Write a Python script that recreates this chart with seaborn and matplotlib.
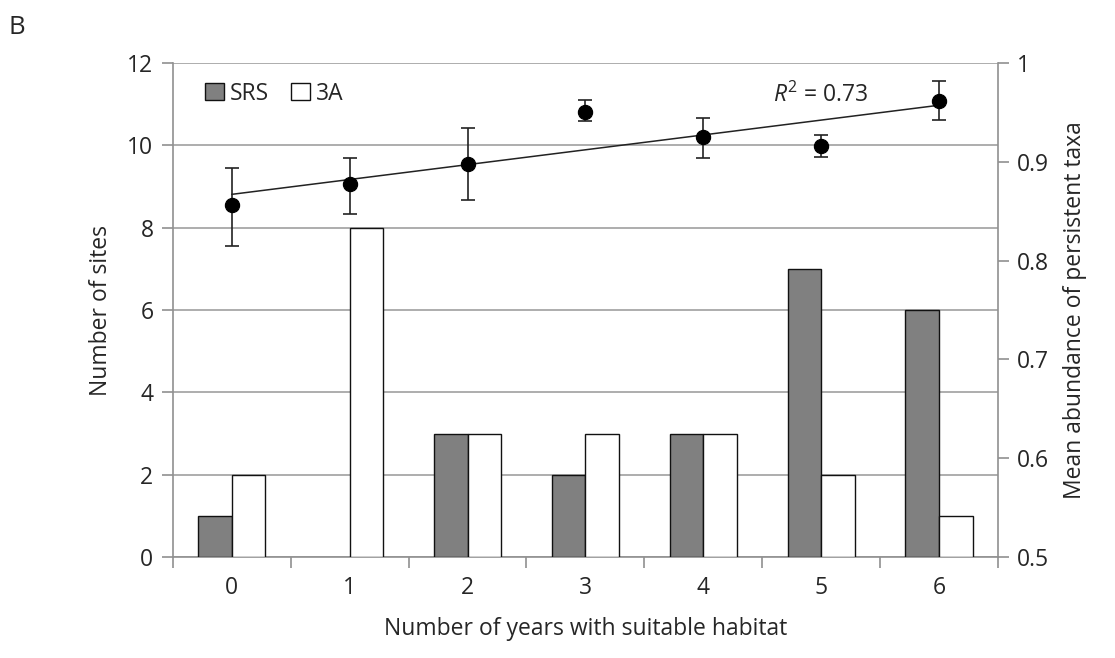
import numpy as np
import pandas as pd
import matplotlib
matplotlib.use("Agg")
import matplotlib.pyplot as plt
from matplotlib.patches import Patch
import seaborn as sns

years = [0, 1, 2, 3, 4, 5, 6]
srs_sites = [1, 0, 3, 2, 3, 7, 6]
a3_sites = [2, 8, 3, 3, 3, 2, 1]
mean_abund = [0.856, 0.878, 0.898, 0.951, 0.925, 0.916, 0.962]
err_low = [0.815, 0.847, 0.861, 0.941, 0.904, 0.905, 0.942]
err_high = [0.894, 0.904, 0.934, 0.963, 0.944, 0.927, 0.982]
r2_text = "0.73"

sns.set_theme(style="white")
plt.rcParams['font.family'] = ['Open Sans', 'DejaVu Sans']
plt.rcParams['mathtext.fontset'] = 'custom'
plt.rcParams['mathtext.it'] = 'Open Sans:italic'
plt.rcParams['mathtext.rm'] = 'Open Sans'
FS = 16.5

df = pd.DataFrame({
    "year": years * 2,
    "sites": srs_sites + a3_sites,
    "group": ["SRS"] * 7 + ["3A"] * 7,
})

fig = plt.figure(figsize=(11.15, 6.58), dpi=100)
ax = fig.add_axes([0.155, 0.1535, 0.74, 0.7505])

sns.barplot(data=df, x="year", y="sites", hue="group", hue_order=["SRS", "3A"],
            palette={"SRS": "#808080", "3A": "white"}, width=0.57,
            edgecolor="#111111", linewidth=1.0, ax=ax, legend=False, zorder=3)
for p in ax.patches:
    if p.get_height() == 0:
        p.set_visible(False)

ax.set_xlim(-0.5, 6.5)
ax.set_ylim(0, 12)
ax.set_yticks(range(0, 13, 2))
ax.grid(axis="y", color="#a0a0a0", linewidth=1.2, zorder=0)
ax.set_axisbelow(True)
ax.set_xticks(range(7))
ax.set_xticklabels([str(y) for y in years], fontsize=FS)
ax.set_xticks(np.arange(-0.5, 7.0, 1.0), minor=True)
ax.tick_params(axis="x", which="major", length=0, pad=14)
ax.tick_params(axis="x", which="minor", length=8, color="#909090", width=1.2, direction="out", bottom=True)
ax.tick_params(axis="y", length=8, color="#909090", width=1.2, direction="out", left=True, labelsize=FS, pad=6)
for s in ["top", "right"]:
    ax.spines[s].set_visible(False)
for s in ["left", "bottom"]:
    ax.spines[s].set_color("#909090")
    ax.spines[s].set_linewidth(1.2)
ax.set_xlabel("Number of years with suitable habitat", fontsize=FS, labelpad=12)
ax.set_ylabel("Number of sites", fontsize=FS, labelpad=10)

ax2 = ax.twinx()
ax2.set_ylim(0.5, 1.0)
ax2.set_yticks([0.5, 0.6, 0.7, 0.8, 0.9, 1.0])
ax2.set_yticklabels(["0.5", "0.6", "0.7", "0.8", "0.9", "1"])
ax2.tick_params(axis="y", length=8, color="#909090", width=1.2, direction="out", right=True, labelsize=FS, pad=6)
for s in ["top", "left", "bottom"]:
    ax2.spines[s].set_visible(False)
ax2.spines["right"].set_color("#909090")
ax2.spines["right"].set_linewidth(1.2)
ax2.grid(False)

ma = np.array(mean_abund)
yerr = np.vstack([ma - np.array(err_low), np.array(err_high) - ma])
ax2.errorbar(years, ma, yerr=yerr, fmt="none", ecolor="#222222", elinewidth=1.2,
             capsize=5, capthick=1.2, zorder=4)
sns.regplot(x=years, y=mean_abund, ci=None, scatter=False, ax=ax2,
            line_kws={"color": "#222222", "linewidth": 1.1, "zorder": 5})
sns.scatterplot(x=years, y=mean_abund, ax=ax2, color="black", s=105,
                edgecolor="black", zorder=6)
ax2.set_ylabel("Mean abundance of persistent taxa", fontsize=FS, labelpad=10)
ax2.set_xlim(-0.5, 6.5)

ax2.text(0.728, 0.935, "$R^{2}$ = " + r2_text, transform=ax.transAxes, fontsize=FS,
         ha="left", va="center")

handles = [Patch(facecolor="#808080", edgecolor="#111111", label="SRS"),
           Patch(facecolor="white", edgecolor="#111111", label="3A")]
ax.legend(handles=handles, loc="upper left", ncol=2, frameon=False, fontsize=FS,
          handlelength=0.8, handleheight=0.8, handletextpad=0.25, columnspacing=1.0,
          bbox_to_anchor=(0.02, 0.995), borderaxespad=0.3)

fig.text(0.008, 0.958, "B", fontsize=FS + 2, ha="left", va="center")

fig.savefig("out.png", dpi=100)
